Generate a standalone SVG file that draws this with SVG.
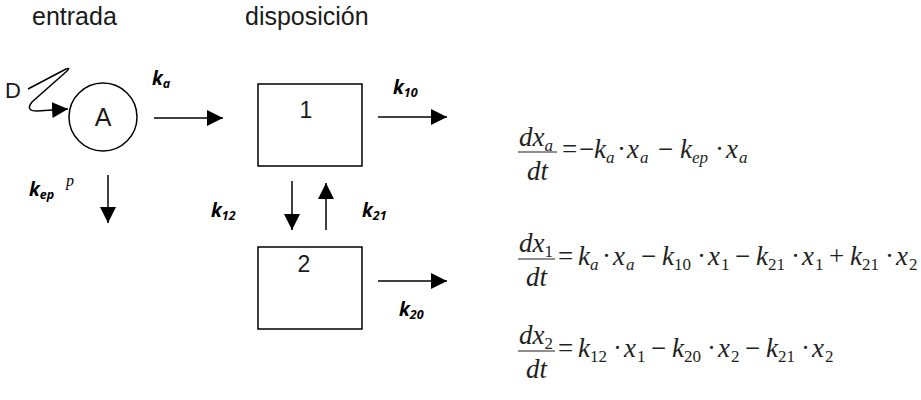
<svg xmlns="http://www.w3.org/2000/svg" width="921" height="400" viewBox="0 0 921 400">
<style>
.lbl{font-family:"Liberation Sans",Arial,sans-serif;fill:#1a1a1a}
.k{font-family:"Open Sans","Liberation Sans",sans-serif;font-weight:bold;font-style:italic;font-size:19px;fill:#000}
.ks{font-size:12.5px}
.eq{font-family:"Liberation Serif","Times New Roman",serif;font-style:italic;font-size:27px;fill:#231f20}
.s{font-size:17px}
.up{font-style:normal}
.ln{stroke:#000;stroke-width:1.5;fill:none}
.box{stroke:#000;stroke-width:1.5;fill:#fff}
.bar{stroke:#231f20;stroke-width:1.2}
</style>
<defs>
<marker id="ah" viewBox="0 0 16 16" refX="16" refY="8" markerWidth="16" markerHeight="16" markerUnits="userSpaceOnUse" orient="auto">
<path d="M0,0 L16,8 L0,16 z" fill="#000"/>
</marker>
</defs>
<rect width="921" height="400" fill="#fff"/>
<g id="headers">
<text class="lbl" x="32" y="25" font-size="25">entrada</text>
<text class="lbl" x="245" y="25" font-size="25">disposición</text>
</g>
<g id="node-D"><text class="lbl" x="5" y="98" font-size="22">D</text></g>
<g id="node-A">
<circle cx="103" cy="117" r="34" class="ln"/>
<text class="lbl" x="103" y="126" font-size="25" text-anchor="middle">A</text>
</g>
<g id="node-1">
<rect x="258" y="84" width="104" height="82" class="box"/>
<text class="lbl" x="306" y="118" font-size="23" text-anchor="middle">1</text>
</g>
<g id="node-2">
<rect x="258" y="247" width="104" height="82" class="box"/>
<text class="lbl" x="304" y="272" font-size="23" text-anchor="middle">2</text>
</g>
<g id="connectors">
<path class="ln" d="M28,89 L66,69 Q71,67 67,71 L32,102 Q25,111 37,111 L68,109" marker-end="url(#ah)"/>
<path class="ln" d="M154,118 H223" marker-end="url(#ah)"/>
<path class="ln" d="M378,117 H447" marker-end="url(#ah)"/>
<path class="ln" d="M378,281 H447" marker-end="url(#ah)"/>
<path class="ln" d="M292,181 V230" marker-end="url(#ah)"/>
<path class="ln" d="M326,230 V183" marker-end="url(#ah)"/>
<path class="ln" d="M108,175 V223" marker-end="url(#ah)"/>
</g>
<g id="rate-labels">
<text class="k" x="152" y="85">k<tspan class="ks" dy="3">a</tspan></text>
<text class="k" x="393" y="94">k<tspan class="ks" dy="3">10</tspan></text>
<text class="k" x="211" y="217">k<tspan class="ks" dy="3">12</tspan></text>
<text class="k" x="362" y="217">k<tspan class="ks" dy="3">21</tspan></text>
<text class="k" x="399" y="316">k<tspan class="ks" dy="3">20</tspan></text>
<text class="k" x="29" y="196">k<tspan class="ks" dy="3">ep</tspan></text>
<text x="66" y="186" font-family="Liberation Serif,serif" font-style="italic" font-size="16">p</text>
</g>
<g id="equations">
<g id="eq1">
<text class="eq" x="519" y="146">dx<tspan class="s" dy="5">a</tspan></text>
<line class="bar" x1="518" y1="152" x2="557" y2="152"/>
<text class="eq" x="537.5" y="180" text-anchor="middle">dt</text>
<text class="eq" y="158"><tspan class="up" x="562">=</tspan><tspan class="up" x="579">−</tspan><tspan x="594">k</tspan><tspan class="s" x="606" dy="5">a</tspan><tspan class="up" x="617" dy="-5">·</tspan><tspan x="627">x</tspan><tspan class="s" x="640" dy="5">a</tspan><tspan class="up" x="658" dy="-5">−</tspan><tspan x="680">k</tspan><tspan class="s" x="692" dy="5">ep</tspan><tspan class="up" x="715" dy="-5">·</tspan><tspan x="726">x</tspan><tspan class="s" x="739" dy="5">a</tspan></text>
</g>
<g id="eq2">
<text class="eq" x="519" y="252">dx<tspan class="s up" dy="5">1</tspan></text>
<line class="bar" x1="518" y1="259" x2="555" y2="259"/>
<text class="eq" x="536.5" y="286" text-anchor="middle">dt</text>
<text class="eq" y="265"><tspan class="up" x="558">=</tspan><tspan x="578">k</tspan><tspan class="s" x="590" dy="5">a</tspan><tspan class="up" x="602" dy="-5">·</tspan><tspan x="613">x</tspan><tspan class="s" x="626" dy="5">a</tspan><tspan class="up" x="641" dy="-5">−</tspan><tspan x="662">k</tspan><tspan class="s up" x="674" dy="5">10</tspan><tspan class="up" x="697" dy="-5">·</tspan><tspan x="708">x</tspan><tspan class="s up" x="721" dy="5">1</tspan><tspan class="up" x="735" dy="-5">−</tspan><tspan x="756">k</tspan><tspan class="s up" x="768" dy="5">21</tspan><tspan class="up" x="791" dy="-5">·</tspan><tspan x="802">x</tspan><tspan class="s up" x="815" dy="5">1</tspan><tspan class="up" x="829" dy="-5">+</tspan><tspan x="850">k</tspan><tspan class="s up" x="862" dy="5">21</tspan><tspan class="up" x="885" dy="-5">·</tspan><tspan x="896">x</tspan><tspan class="s up" x="909" dy="5">2</tspan></text>
</g>
<g id="eq3">
<text class="eq" x="519" y="344">dx<tspan class="s up" dy="5">2</tspan></text>
<line class="bar" x1="518" y1="351" x2="555" y2="351"/>
<text class="eq" x="536.5" y="378" text-anchor="middle">dt</text>
<text class="eq" y="357"><tspan class="up" x="558">=</tspan><tspan x="578">k</tspan><tspan class="s up" x="590" dy="5">12</tspan><tspan class="up" x="613" dy="-5">·</tspan><tspan x="624">x</tspan><tspan class="s up" x="637" dy="5">1</tspan><tspan class="up" x="651" dy="-5">−</tspan><tspan x="672">k</tspan><tspan class="s up" x="684" dy="5">20</tspan><tspan class="up" x="707" dy="-5">·</tspan><tspan x="718">x</tspan><tspan class="s up" x="731" dy="5">2</tspan><tspan class="up" x="745" dy="-5">−</tspan><tspan x="766">k</tspan><tspan class="s up" x="778" dy="5">21</tspan><tspan class="up" x="801" dy="-5">·</tspan><tspan x="812">x</tspan><tspan class="s up" x="825" dy="5">2</tspan></text>
</g>
</g>
</svg>
